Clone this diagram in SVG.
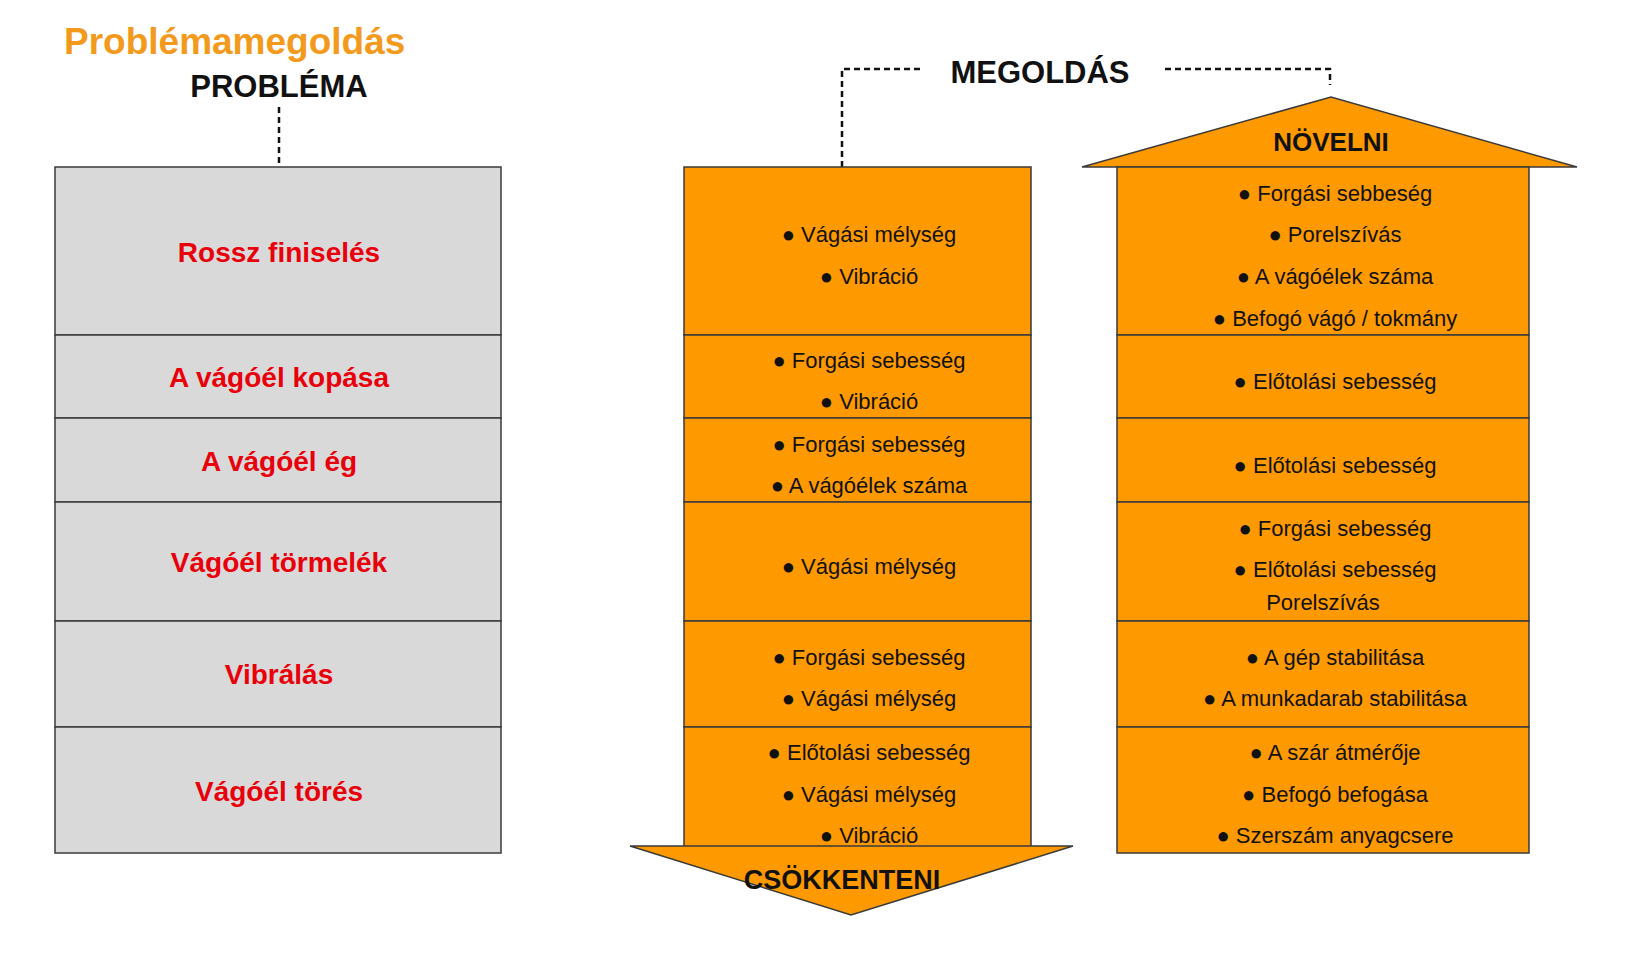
<svg xmlns="http://www.w3.org/2000/svg" width="1628" height="960" viewBox="0 0 1628 960">
<style>
text{font-family:"Liberation Sans","Open Sans",sans-serif;text-anchor:middle}
.g{fill:#d9d9d9;stroke:#3a3a3a;stroke-width:1.5}
.o{fill:#ff9900;stroke:#3a3a3a;stroke-width:1.5}
.r{fill:#e8000b;font-weight:bold;font-size:28px}
.t{fill:#111;font-size:22px}
.h{fill:#111;font-weight:bold}
.d{fill:none;stroke:#111;stroke-width:2.5;stroke-dasharray:6,4}
</style>
<rect width="1628" height="960" fill="#fff"/>
<text x="64" y="54" style="text-anchor:start;fill:#f39a1c;font-weight:bold;font-size:37px">Problémamegoldás</text>
<text class="h" x="279" y="97" font-size="31">PROBLÉMA</text>
<text class="h" x="1040" y="83" font-size="31">MEGOLDÁS</text>
<g id="connectors">
<path class="d" d="M279 107V167"/>
<path class="d" d="M842 167V69H923"/>
<path class="d" d="M1165 69H1330V85"/>
</g>
<g id="problem">
<rect class="g" x="55" y="167" width="446" height="168"/>
<rect class="g" x="55" y="335" width="446" height="83"/>
<rect class="g" x="55" y="418" width="446" height="84"/>
<rect class="g" x="55" y="502" width="446" height="119"/>
<rect class="g" x="55" y="621" width="446" height="106"/>
<rect class="g" x="55" y="727" width="446" height="126"/>
<text class="r" x="279" y="262">Rossz finiselés</text>
<text class="r" x="279" y="387">A vágóél kopása</text>
<text class="r" x="279" y="471">A vágóél ég</text>
<text class="r" x="279" y="572">Vágóél törmelék</text>
<text class="r" x="279" y="684">Vibrálás</text>
<text class="r" x="279" y="801">Vágóél törés</text>
</g>
<g id="decrease">
<rect class="o" x="684" y="167" width="347" height="168"/>
<rect class="o" x="684" y="335" width="347" height="83"/>
<rect class="o" x="684" y="418" width="347" height="84"/>
<rect class="o" x="684" y="502" width="347" height="119"/>
<rect class="o" x="684" y="621" width="347" height="106"/>
<rect class="o" x="684" y="727" width="347" height="126"/>
<polygon class="o" points="630,846 1073,846 851,915"/>
<text class="h" x="842" y="889" font-size="27">CSÖKKENTENI</text>
<g class="t">
<text class="t" x="869" y="242">● Vágási mélység</text>
<text class="t" x="869" y="284">● Vibráció</text>
<text class="t" x="869" y="368">● Forgási sebesség</text>
<text class="t" x="869" y="409">● Vibráció</text>
<text class="t" x="869" y="452">● Forgási sebesség</text>
<text class="t" x="869" y="493">● A vágóélek száma</text>
<text class="t" x="869" y="574">● Vágási mélység</text>
<text class="t" x="869" y="665">● Forgási sebesség</text>
<text class="t" x="869" y="706">● Vágási mélység</text>
<text class="t" x="869" y="760">● Előtolási sebesség</text>
<text class="t" x="869" y="802">● Vágási mélység</text>
<text class="t" x="869" y="843">● Vibráció</text>
</g>
</g>
<g id="increase">
<polygon class="o" points="1082,167 1331,97 1577,167"/>
<text class="h" x="1331" y="151" font-size="26">NÖVELNI</text>
<rect class="o" x="1117" y="167" width="412" height="168"/>
<rect class="o" x="1117" y="335" width="412" height="83"/>
<rect class="o" x="1117" y="418" width="412" height="84"/>
<rect class="o" x="1117" y="502" width="412" height="119"/>
<rect class="o" x="1117" y="621" width="412" height="106"/>
<rect class="o" x="1117" y="727" width="412" height="126"/>
<text class="t" x="1335" y="201">● Forgási sebbeség</text>
<text class="t" x="1335" y="242">● Porelszívás</text>
<text class="t" x="1335" y="284">● A vágóélek száma</text>
<text class="t" x="1335" y="326">● Befogó vágó / tokmány</text>
<text class="t" x="1335" y="389">● Előtolási sebesség</text>
<text class="t" x="1335" y="473">● Előtolási sebesség</text>
<text class="t" x="1335" y="536">● Forgási sebesség</text>
<text class="t" x="1335" y="577">● Előtolási sebesség</text>
<text class="t" x="1323" y="610">Porelszívás</text>
<text class="t" x="1335" y="665">● A gép stabilitása</text>
<text class="t" x="1335" y="706">● A munkadarab stabilitása</text>
<text class="t" x="1335" y="760">● A szár átmérője</text>
<text class="t" x="1335" y="802">● Befogó befogása</text>
<text class="t" x="1335" y="843">● Szerszám anyagcsere</text>
</g>
</svg>
